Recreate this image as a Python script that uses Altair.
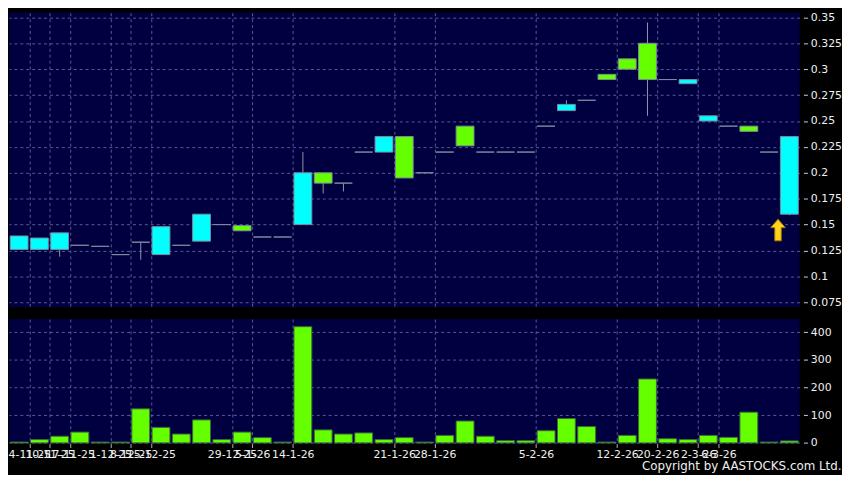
import json
import altair as alt
import pandas as pd

# ---------------- data ----------------
idx = list(range(39))
opens = [0.126, 0.126, 0.126, 0.130, 0.129, 0.121, 0.133, 0.121, 0.130, 0.134,
         0.150, 0.149, 0.138, 0.138, 0.150, 0.200, 0.190, 0.220, 0.220, 0.235,
         0.200, 0.220, 0.245, 0.220, 0.220, 0.220, 0.245, 0.260, 0.270, 0.295,
         0.310, 0.325, 0.290, 0.286, 0.250, 0.245, 0.245, 0.220, 0.160]
closes = [0.139, 0.137, 0.142, 0.130, 0.129, 0.121, 0.133, 0.148, 0.130, 0.160,
          0.150, 0.144, 0.138, 0.138, 0.200, 0.190, 0.190, 0.220, 0.235, 0.195,
          0.200, 0.220, 0.226, 0.220, 0.220, 0.220, 0.245, 0.266, 0.270, 0.290,
          0.300, 0.290, 0.290, 0.290, 0.255, 0.245, 0.240, 0.220, 0.235]
highs = [0.139, 0.137, 0.142, 0.130, 0.129, 0.121, 0.133, 0.148, 0.130, 0.160,
         0.150, 0.149, 0.138, 0.138, 0.220, 0.200, 0.190, 0.220, 0.235, 0.235,
         0.200, 0.220, 0.245, 0.220, 0.220, 0.220, 0.245, 0.270, 0.270, 0.295,
         0.310, 0.345, 0.290, 0.290, 0.255, 0.245, 0.245, 0.220, 0.235]
lows = [0.126, 0.126, 0.119, 0.130, 0.129, 0.121, 0.116, 0.121, 0.130, 0.134,
        0.150, 0.144, 0.138, 0.138, 0.150, 0.180, 0.182, 0.220, 0.220, 0.195,
        0.200, 0.220, 0.226, 0.220, 0.220, 0.220, 0.245, 0.260, 0.270, 0.290,
        0.300, 0.255, 0.290, 0.286, 0.250, 0.245, 0.240, 0.220, 0.159]
volumes = [3, 12, 24, 39, 3, 3, 123, 56, 32, 83, 12, 39, 19, 3, 420, 47, 32, 36,
           12, 19, 3, 27, 79, 24, 8, 8, 44, 88, 59, 3, 27, 231, 15, 12, 27, 20,
           111, 3, 7]

tick_idx = [1, 2, 3, 5, 6, 7, 11, 12, 14, 19, 21, 26, 30, 32, 34, 35]
tick_labels = ["4-11-25", "10-11-25", "17-11-25", "1-12-25", "8-12-25",
               "15-12-25", "29-12-25", "5-1-26", "14-1-26", "21-1-26",
               "28-1-26", "5-2-26", "12-2-26", "20-2-26", "2-3-26", "6-3-26"]
price_ticks = [0.075, 0.1, 0.125, 0.15, 0.175, 0.2, 0.225, 0.25, 0.275, 0.3,
               0.325, 0.35]
vol_ticks = [0, 100, 200, 300, 400]
copyright_text = "Copyright by AASTOCKS.com Ltd."

# ---------------- styling ----------------
NAVY = "#000040"
GRID = "#5a5a98"
CYAN = "#00ffff"
LIME = "#66ff00"
GREY = "#9494a8"
FONT = "DejaVu Sans"

df = pd.DataFrame({"i": idx, "open": opens, "close": closes,
                   "high": highs, "low": lows, "vol": volumes})
df["dir"] = ["up" if c > o else ("down" if c < o else "flat")
             for o, c in zip(opens, closes)]

grid_vals = [t - 0.5 for t in tick_idx]
label_expr = f"{json.dumps(tick_labels)}[indexof({json.dumps(grid_vals)}, datum.value)]"

xscale = alt.Scale(domain=[-0.5, len(idx) - 0.5], nice=False, zero=False)
W = 800

x_top_axis = alt.Axis(values=grid_vals, grid=True, labels=False,
                      ticks=False, domain=False, title=None,
                      gridColor=GRID, gridDash=[3, 3], gridWidth=1)
x_bot_axis = alt.Axis(values=grid_vals, grid=True, labelExpr=label_expr,
                      ticks=True, tickSize=4, tickColor="#b0b0b0",
                      domain=False, title=None, labelColor="#f0f0f0",
                      labelFont=FONT, labelFontSize=11, labelPadding=1,
                      labelOverlap=False, labelFlush=False,
                      gridColor=GRID, gridDash=[3, 3], gridWidth=1)

yscale = alt.Scale(domain=[0.07023, 0.35449], nice=False, zero=False)
y_price_axis = alt.Axis(orient="right", values=price_ticks,
                        labelExpr="format(datum.value, '.3~f')",
                        grid=True, gridColor=GRID, gridDash=[3, 3],
                        domain=False, tickSize=4, tickColor="#d0d0d0",
                        offset=4, labelPadding=3, labelColor="#f0f0f0",
                        labelFont=FONT, labelFontSize=11, title=None)

base = alt.Chart(df).transform_calculate(
    x0="datum.i - 0.44", x1="datum.i + 0.44"
)

wicks = alt.Chart(df).mark_rule(color=GREY, strokeWidth=1).encode(
    x=alt.X("i:Q", scale=xscale, axis=x_top_axis),
    y=alt.Y("low:Q", scale=yscale, axis=y_price_axis),
    y2="high:Q",
)

bodies = base.mark_rect(stroke="#7c8aa0", strokeWidth=1).encode(
    x=alt.X("x0:Q", scale=xscale, axis=x_top_axis),
    x2="x1:Q",
    y=alt.Y("open:Q", scale=yscale, axis=y_price_axis),
    y2="close:Q",
    fill=alt.Fill("dir:N", scale=alt.Scale(domain=["up", "down", "flat"],
                                          range=[CYAN, LIME, GREY]),
                  legend=None),
)

arrow_df = pd.DataFrame({"i": [idx[-1]], "p": [opens[-1]]})
arrow = alt.Chart(arrow_df).mark_point(
    shape="M0,-1 L0.68,-0.22 L0.3,-0.22 L0.3,1 L-0.3,1 L-0.3,-0.22 L-0.68,-0.22 Z",
    size=480, filled=True, fill="#ffd21f", stroke="#a07800", strokeWidth=1,
    opacity=1, xOffset=-11.5, yOffset=16,
).encode(
    x=alt.X("i:Q", scale=xscale, axis=x_top_axis),
    y=alt.Y("p:Q", scale=yscale, axis=y_price_axis),
)

top = alt.layer(wicks, bodies, arrow).properties(width=W, height=298)

vscale = alt.Scale(domain=[-2.5, 447.5], nice=False, zero=False)
vol = base.mark_rect(fill=LIME, stroke="#3a6a3a", strokeWidth=1).encode(
    x=alt.X("x0:Q", scale=xscale, axis=x_bot_axis),
    x2="x1:Q",
    y=alt.Y("vol:Q", scale=vscale,
            axis=alt.Axis(orient="right", values=vol_ticks, grid=True,
                          gridColor=GRID, gridDash=[3, 3], domain=False,
                          tickSize=4, tickColor="#d0d0d0", offset=4,
                          labelPadding=3, labelColor="#f0f0f0",
                          labelFont=FONT, labelFontSize=11, title=None)),
    y2=alt.datum(0),
).properties(width=W, height=126)

chart = alt.vconcat(top, vol, spacing=12).properties(
    padding=0,
    background="#000000",
    title=alt.TitleParams(copyright_text, orient="bottom", anchor="end",
                          color="#f0f0f0", font=FONT, fontSize=12,
                          fontWeight="normal", offset=2),
).configure_view(fill=NAVY, stroke=None)

chart.save("out.html", embed_options={"renderer": "svg", "actions": False})
